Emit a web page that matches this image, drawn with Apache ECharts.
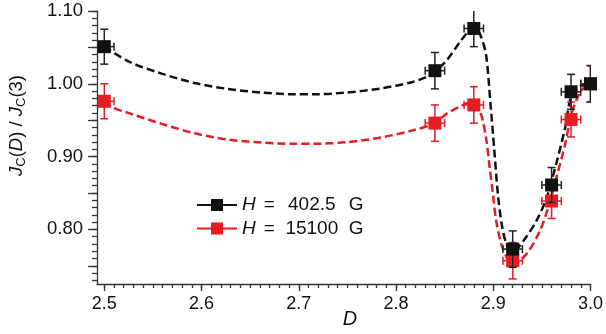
<!DOCTYPE html>
<html>
<head>
<meta charset="utf-8">
<script src="https://cdn.jsdelivr.net/npm/echarts@6/dist/echarts.min.js"></script>
<style>
html,body{margin:0;padding:0;background:#fff;}
#chart{width:606px;height:334px;}
</style>
</head>
<body>
<div id="chart"></div>
<script>
// ---- data ----
var seriesNames = ['H = 402.5 G', 'H = 15100 G'];
var legendValues = ['402.5', '15100'];
var pointsX = [2.50, 2.84, 2.88, 2.92, 2.96, 2.98, 3.00];
var blackY = [1.051, 1.018, 1.076, 0.773, 0.861, 0.989, 1.000];
var redY   = [0.976, 0.946, 0.971, 0.757, 0.839, 0.951, 1.000];
var blackYErr = [0.024, 0.025, 0.025, 0.025, 0.024, 0.024, 0.025];
var redYErr   = [0.024, 0.025, 0.025, 0.025, 0.024, 0.024, 0.025];
var xErr = [0.01, 0.01, 0.01, 0.01, 0.01, 0.01, 0.01];

var blackCurveX = [2.5, 2.526, 2.559, 2.593, 2.627, 2.662, 2.696, 2.715, 2.749, 2.783, 2.817, 2.831, 2.84, 2.852, 2.866, 2.876, 2.882, 2.887, 2.8926, 2.897, 2.901, 2.905, 2.909, 2.913, 2.918, 2.924, 2.931, 2.9445, 2.955, 2.9655, 2.974, 2.98, 2.9887, 3.0];
var blackCurveY = [1.051, 1.030, 1.014, 1.001, 0.993, 0.988, 0.9855, 0.9855, 0.988, 0.9933, 1.0025, 1.0094, 1.017, 1.032, 1.058, 1.074, 1.077, 1.066, 1.04, 0.975, 0.91, 0.845, 0.805, 0.782, 0.770, 0.773, 0.784, 0.812, 0.844, 0.894, 0.940, 0.982, 0.996, 1.0];
var redCurveX = [2.5, 2.5075, 2.5246, 2.559, 2.593, 2.627, 2.662, 2.696, 2.715, 2.749, 2.783, 2.817, 2.84, 2.852, 2.866, 2.876, 2.882, 2.8878, 2.893, 2.8963, 2.8997, 2.903, 2.9083, 2.915, 2.92, 2.934, 2.948, 2.9565, 2.965, 2.974, 2.98, 2.987, 2.9955, 3.0];
var redCurveY = [0.976, 0.968, 0.960, 0.945, 0.932, 0.9234, 0.9193, 0.9175, 0.9175, 0.9198, 0.9258, 0.936, 0.946, 0.959, 0.969, 0.974, 0.970, 0.9566, 0.922, 0.885, 0.8485, 0.812, 0.7796, 0.759, 0.752, 0.766, 0.798, 0.830, 0.8715, 0.9175, 0.9566, 0.982, 0.998, 1.0];

var xTickLabels = [2.5, 2.6, 2.7, 2.8, 2.9, 3.0];
var yTickLabels = [0.80, 0.90, 1.00, 1.10];
var yMajorTicks = [0.75, 0.80, 0.85, 0.90, 0.95, 1.00, 1.05, 1.10];

// ---- build ----
function range(a, b, step) { var r = []; for (var v = a; v <= b + 1e-9; v += step) r.push(Math.round(v * 1000) / 1000); return r; }
var xMinorTicks = range(2.50, 3.00, 0.01);
var yMinorTicks = range(0.73, 1.10, 0.01);
function zip2(a, b) { return a.map(function (v, i) { return [v, b[i]]; }); }
function errData(y, ye) { return pointsX.map(function (x, i) { return [x, y[i], xErr[i], ye[i]]; }); }

var BLACK = '#111111', RED = '#e41c23';
var FONT = 'Liberation Sans, Arial, sans-serif';
var XMIN = 2.4925, XMAX = 3.0, YMIN = 0.725, YMAX = 1.10;

function errRender(color) {
  return function (params, api) {
    var x = api.value(0), y = api.value(1), ex = api.value(2), ey = api.value(3);
    var t = api.coord([x, y + ey]), b = api.coord([x, y - ey]);
    var l = api.coord([x - ex, y]), r = api.coord([x + ex, y]);
    var cap = 4;
    var st = { stroke: color, lineWidth: 1.5 };
    var lines = [
      [t[0], t[1], b[0], b[1]],
      [t[0] - cap, t[1], t[0] + cap, t[1]],
      [b[0] - cap, b[1], b[0] + cap, b[1]],
      [l[0], l[1], r[0], r[1]],
      [l[0], l[1] - cap, l[0], l[1] + cap],
      [r[0], r[1] - cap, r[0], r[1] + cap]
    ];
    return {
      type: 'group',
      children: lines.map(function (s) {
        return { type: 'line', shape: { x1: s[0], y1: s[1], x2: s[2], y2: s[3] }, style: st };
      })
    };
  };
}

var axisLineStyle = { color: '#333', width: 1.3 };
var legendIcon = 'path://M0,5 H40 V7 H0 Z M14,0 H26 V12 H14 Z';
var legendTxt = { fontSize: 19, fontFamily: FONT, color: '#111', lineHeight: 20 };

var option = {
  animation: false,
  backgroundColor: '#fff',
  grid: { left: 97, right: 15, top: 11, bottom: 50, containLabel: false },
  xAxis: [
    {
      type: 'value', min: XMIN, max: XMAX,
      axisLine: { show: true, lineStyle: axisLineStyle, onZero: false },
      axisTick: { show: true, inside: false, length: 7, lineStyle: axisLineStyle, customValues: xTickLabels },
      axisLabel: { show: true, margin: 11, fontSize: 18, color: '#111', fontFamily: FONT, customValues: xTickLabels,
        formatter: function (v) { return v.toFixed(1); } },
      splitLine: { show: false }
    },
    {
      type: 'value', min: XMIN, max: XMAX, position: 'bottom',
      axisLine: { show: false, onZero: false },
      axisTick: { show: true, inside: false, length: 4, lineStyle: axisLineStyle, customValues: xMinorTicks },
      axisLabel: { show: false },
      splitLine: { show: false }
    }
  ],
  yAxis: [
    {
      type: 'value', min: YMIN, max: YMAX,
      axisLine: { show: true, lineStyle: axisLineStyle, onZero: false },
      axisTick: { show: true, inside: false, length: 9, lineStyle: axisLineStyle, customValues: yMajorTicks },
      axisLabel: { show: true, margin: 14, fontSize: 18.5, color: '#111', fontFamily: FONT, customValues: yTickLabels,
        formatter: function (v) { return v.toFixed(2); } },
      splitLine: { show: false }
    },
    {
      type: 'value', min: YMIN, max: YMAX, position: 'left',
      axisLine: { show: false, onZero: false },
      axisTick: { show: true, inside: false, length: 5, lineStyle: axisLineStyle, customValues: yMinorTicks },
      axisLabel: { show: false },
      splitLine: { show: false }
    }
  ],
  legend: {
    orient: 'vertical', left: 192, top: 190,
    itemWidth: 40, itemHeight: 12, itemGap: 3.4,
    icon: legendIcon,
    selectedMode: false,
    data: [seriesNames[0], seriesNames[1]],
    formatter: function (name) {
      var v = legendValues[seriesNames.indexOf(name)];
      return '{i|H}{e|=}{num|' + v + '}{g|G}';
    },
    textStyle: {
      fontSize: 19, color: '#111', fontFamily: FONT, lineHeight: 20,
      rich: {
        i: Object.assign({ fontStyle: 'italic', padding: [0, 0, 0, 0] }, legendTxt),
        e: Object.assign({ padding: [0, 10, 0, 8] }, legendTxt),
        num: Object.assign({ width: 54, align: 'right' }, legendTxt),
        g: Object.assign({ padding: [0, 0, 0, 10] }, legendTxt)
      }
    }
  },
  graphic: [
    {
      type: 'text', x: 16.5, y: 125.5, rotation: Math.PI / 2,
      style: {
        text: '{i|J}{s|C}{n|(}{i|D}{n|) / }{i|J}{s|C}{n|(3)}',
        align: 'center', verticalAlign: 'middle',
        rich: {
          i: { fontStyle: 'italic', fontSize: 18.5, fontFamily: FONT, fill: '#111', lineHeight: 22 },
          n: { fontSize: 18.5, fontFamily: FONT, fill: '#111', lineHeight: 22 },
          s: { fontSize: 13, fontFamily: FONT, fill: '#111', lineHeight: 13, verticalAlign: 'bottom' }
        }
      }
    },
    {
      type: 'text', x: 350, y: 319,
      style: { text: 'D', fontStyle: 'italic', fontSize: 20, fontFamily: FONT, fill: '#111', align: 'center', verticalAlign: 'middle' }
    }
  ],
  series: [
    {
      name: 'fitRed', type: 'line', data: zip2(redCurveX, redCurveY), showSymbol: false, smooth: 0.3,
      lineStyle: { color: RED, width: 2.5, type: [8, 4] }, z: 2, silent: true
    },
    {
      name: 'fitBlack', type: 'line', data: zip2(blackCurveX, blackCurveY), showSymbol: false, smooth: 0.3,
      lineStyle: { color: BLACK, width: 2.5, type: [8, 4] }, z: 2, silent: true
    },
    {
      name: 'errRed', type: 'custom', data: errData(redY, redYErr), renderItem: errRender(RED), clip: true, z: 3, silent: true
    },
    {
      name: seriesNames[1], type: 'scatter', data: zip2(pointsX, redY), symbol: 'rect', symbolSize: 13,
      itemStyle: { color: RED, opacity: 1 }, z: 4
    },
    {
      name: 'errBlack', type: 'custom', data: errData(blackY, blackYErr), renderItem: errRender('#222'), clip: true, z: 5, silent: true
    },
    {
      name: seriesNames[0], type: 'scatter', data: zip2(pointsX, blackY), symbol: 'rect', symbolSize: 13,
      itemStyle: { color: BLACK, opacity: 1 }, z: 6
    }
  ]
};

var chart = echarts.init(document.getElementById('chart'), null, { renderer: 'canvas' });
chart.setOption(option);
</script>
</body>
</html>
